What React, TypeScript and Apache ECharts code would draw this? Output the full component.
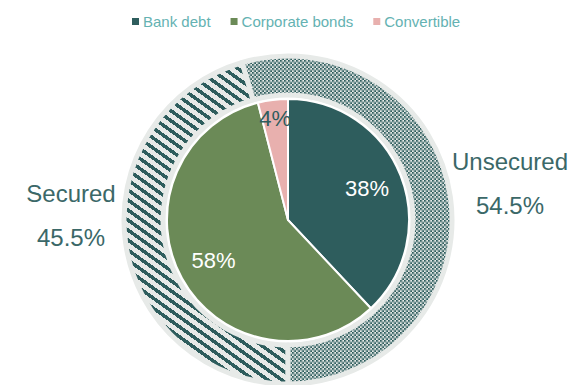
import React, { useEffect, useRef } from "react";
import * as echarts from "echarts";

const categories = ["Bank debt", "Corporate bonds", "Convertible"];
const shares = [38, 58, 4];
const securityNames = ["Secured", "Unsecured"];
const securityShares = [45.5, 54.5];

const TEAL = "#2e5d5d";
const GREEN = "#6b8a57";
const PINK = "#e8b0ae";
const GRAY = "#e7eae8";

function makeStripe(): HTMLCanvasElement {
  const W = 14;
  const H = 10;
  const c = document.createElement("canvas");
  c.width = W;
  c.height = H;
  const ctx = c.getContext("2d")!;
  ctx.fillStyle = GRAY;
  ctx.fillRect(0, 0, W, H);
  ctx.fillStyle = TEAL;
  for (let y = 0; y < H; y++) {
    for (let x = 0; x < W; x++) {
      const v = (((x - Math.floor(1.4 * y)) % W) + W) % W;
      if (v < 6) ctx.fillRect(x, y, 1, 1);
    }
  }
  return c;
}

function makeChecker(): HTMLCanvasElement {
  const c = document.createElement("canvas");
  c.width = 2;
  c.height = 2;
  const ctx = c.getContext("2d")!;
  ctx.fillStyle = GRAY;
  ctx.fillRect(0, 0, 2, 2);
  ctx.fillStyle = TEAL;
  ctx.fillRect(0, 0, 1, 1);
  ctx.fillRect(1, 1, 1, 1);
  return c;
}

const CX = 288;
const CY = 220;

export default function App() {
  const ref = useRef<HTMLDivElement>(null);
  useEffect(() => {
    if (!ref.current) return;
    const chart = echarts.init(ref.current, null, { renderer: "svg" });
    const stripe = makeStripe();
    const checker = makeChecker();
    const innerColors = [TEAL, GREEN, PINK];
    const innerLabelColors = ["#ffffff", "#ffffff", TEAL];
    const outerFills: any[] = [
      { image: stripe, repeat: "repeat" },
      { image: checker, repeat: "repeat", scaleX: 2, scaleY: 2 },
    ];
    const outerLabelPos = [
      { x: 71, y: 215 },
      { x: 510, y: 183 },
    ];
    chart.setOption({
      animation: false,
      legend: {
        top: 9,
        left: 127,
        data: categories,
        icon: "rect",
        itemWidth: 7,
        itemHeight: 7,
        itemGap: 20,
        itemStyle: { borderWidth: 0 },
        textStyle: {
          color: "#64b2b2",
          fontSize: 15,
          padding: [0, 0, 0, -1],
          fontFamily: "Liberation Sans, Arial, sans-serif",
        },
      },
      series: [
        {
          type: "pie",
          center: [CX, CY],
          radius: [125, 164],
          startAngle: 270,
          clockwise: true,
          silent: true,
          data: securityNames.map((n, i) => ({
            name: n,
            value: securityShares[i],
            itemStyle: { color: outerFills[i] },
          })),
          itemStyle: { borderColor: GRAY, borderWidth: 5 },
          label: {
            show: true,
            position: "inside",
            overflow: "none",
            formatter: (p: any) => `{a|${p.name}}\n{a|${p.value}%}`,
            rich: {
              a: {
                fontSize: 24,
                lineHeight: 44,
                color: "#3b6868",
                fontFamily: "Liberation Sans, Arial, sans-serif",
                align: "center",
              },
            },
          },
          labelLine: { show: false },
          labelLayout: (p: any) => ({
            x: outerLabelPos[p.dataIndex].x,
            y: outerLabelPos[p.dataIndex].y,
            align: "center",
            verticalAlign: "middle",
          }),
        },
        {
          type: "pie",
          center: [CX, CY],
          radius: [0, 121],
          startAngle: 90,
          clockwise: true,
          silent: true,
          data: categories.map((n, i) => ({
            name: n,
            value: shares[i],
            itemStyle: { color: innerColors[i] },
            label: { color: innerLabelColors[i] },
          })),
          itemStyle: { borderColor: "#ffffff", borderWidth: 2 },
          label: {
            show: true,
            position: "inside",
            formatter: (p: any) => `${p.value}%`,
            fontSize: 22,
            fontFamily: "Liberation Sans, Arial, sans-serif",
          },
          labelLine: { show: false },
          labelLayout: (p: any) => {
            const r = p.labelRect;
            const mx = r.x + r.width / 2 - CX;
            const my = r.y + r.height / 2 - CY;
            const len = Math.sqrt(mx * mx + my * my) || 1;
            const target = p.dataIndex === 2 ? 102 : 85;
            return {
              x: CX + (mx / len) * target,
              y: CY + (my / len) * target,
              align: "center",
              verticalAlign: "middle",
            };
          },
        },
      ],
    });
    return () => chart.dispose();
  }, []);
  return (
    <div
      ref={ref}
      style={{ position: "absolute", left: 0, top: 0, width: 575, height: 385 }}
    />
  );
}
